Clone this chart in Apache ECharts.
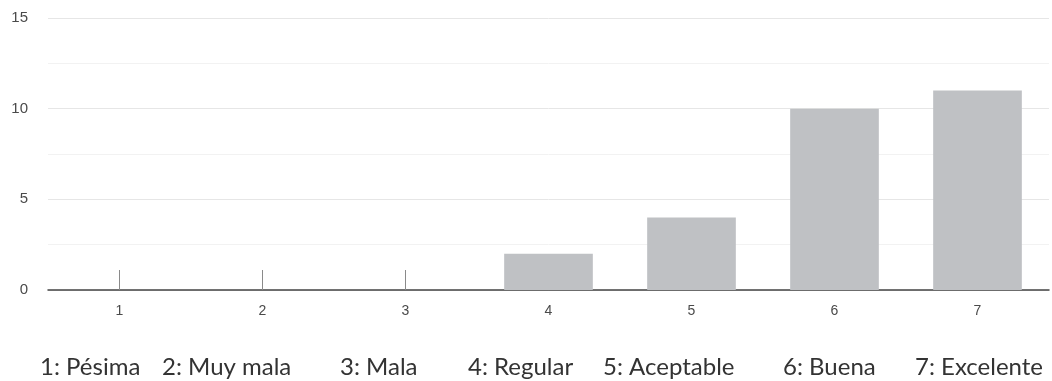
<!DOCTYPE html>
<html><head><meta charset="utf-8">
<script src="https://cdn.jsdelivr.net/npm/echarts@6/dist/echarts.min.js"></script>
<style>html,body{margin:0;padding:0;background:#fff}#c{width:1052px;height:381px}</style>
</head><body><div id="c"></div>
<script>
const categories = ['1','2','3','4','5','6','7'];
const counts = [0, 0, 0, 2, 4, 10, 11];
const legendLabels = ['1: Pésima','2: Muy mala','3: Mala','4: Regular','5: Aceptable','6: Buena','7: Excelente'];
const yTicks = [0, 5, 10, 15];

const legendX = [40, 162, 340, 468, 603, 783, 915];
const chart = echarts.init(document.getElementById('c'));
chart.setOption({
  animation: false,
  grid: {left: 48, right: 3, top: 18, bottom: 91},
  xAxis: {
    type: 'category', data: categories,
    axisLine: {lineStyle: {color: '#444', width: 1.5}},
    axisTick: {show: true, inside: true, length: 20, alignWithLabel: true, lineStyle: {color: '#8a8a8a'}},
    axisLabel: {color: '#4a4a4a', fontSize: 14, margin: 14, fontFamily: 'Arial'}
  },
  yAxis: {
    type: 'value', min: yTicks[0], max: yTicks[yTicks.length-1], interval: 5,
    axisLine: {show: false}, axisTick: {show: false},
    axisLabel: {color: '#4a4a4a', fontSize: 15, margin: 20, fontFamily: 'Arial'},
    splitLine: {lineStyle: {color: '#e6e6e6'}},
    minorTick: {show: false, splitNumber: 2},
    minorSplitLine: {show: true, lineStyle: {color: '#f2f2f2'}}
  },
  series: [{
    type: 'bar', data: counts, barWidth: '62%', z: 3,
    itemStyle: {color: '#bfc1c4'}
  }],
  graphic: legendLabels.map((t, i) => ({
    type: 'text', left: legendX[i], top: 355,
    style: {text: t, fill: '#333', font: '24px Lato'}
  }))
});
</script></body></html>
